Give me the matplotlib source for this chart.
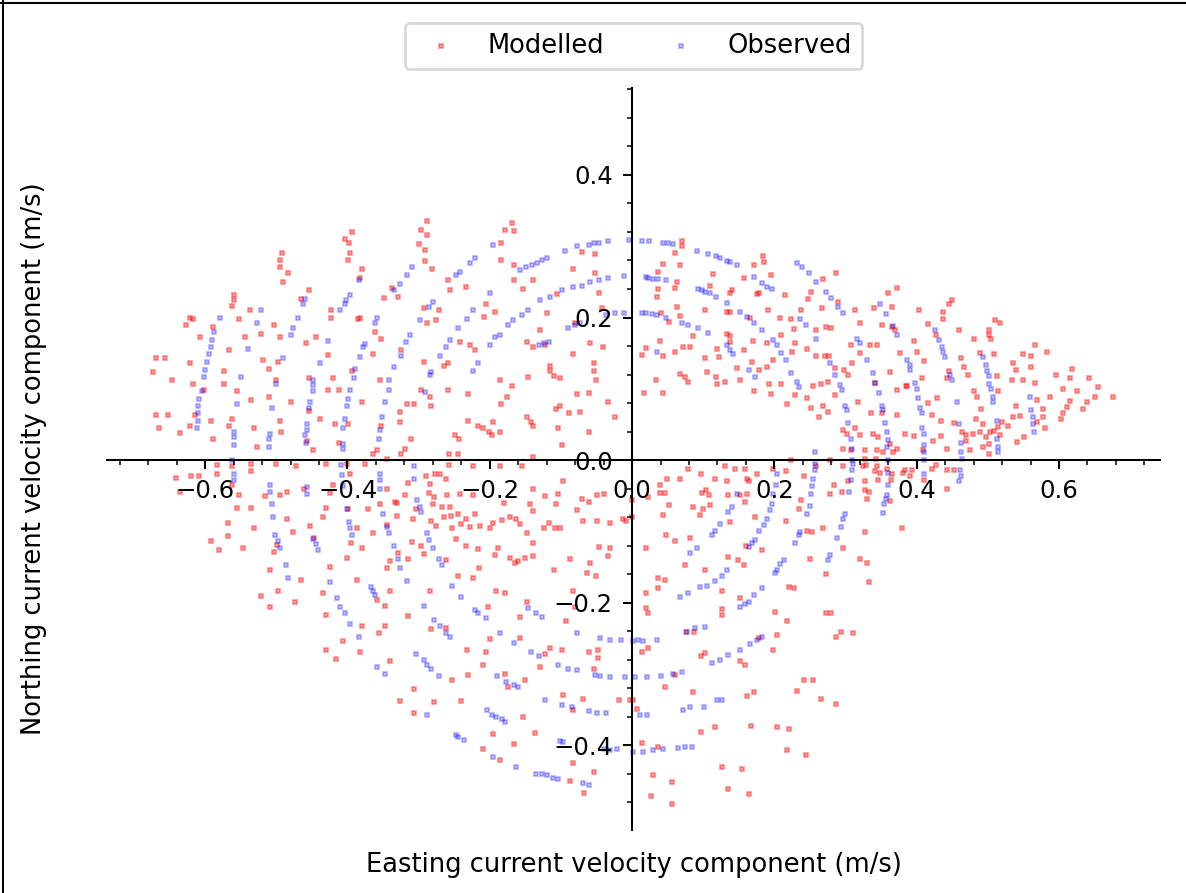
import matplotlib

matplotlib.use("Agg")  # headless
import matplotlib.pyplot as plt
from matplotlib.lines import Line2D
from matplotlib.ticker import MultipleLocator

# Current velocity components (east, north) in m/s.
MODELLED_NW = [
    (-0.394, 0.320), (-0.404, 0.310), (-0.398, 0.304), (-0.396, 0.291), (-0.399, 0.281),
    (-0.379, 0.268), (-0.382, 0.255), (-0.492, 0.291), (-0.495, 0.281), (-0.495, 0.271),
    (-0.483, 0.263), (-0.490, 0.250), (-0.454, 0.239), (-0.466, 0.226), (-0.560, 0.232),
    (-0.560, 0.224), (-0.562, 0.216), (-0.537, 0.211), (-0.423, 0.211), (-0.423, 0.200),
    (-0.385, 0.198), (-0.622, 0.200), (-0.617, 0.198), (-0.627, 0.190), (-0.552, 0.198),
    (-0.503, 0.190), (-0.589, 0.187), (-0.607, 0.172), (-0.544, 0.172), (-0.521, 0.177),
    (-0.495, 0.172), (-0.444, 0.172), (-0.459, 0.164), (-0.428, 0.148), (-0.566, 0.154),
    (-0.669, 0.143), (-0.657, 0.143), (-0.622, 0.136), (-0.519, 0.141), (-0.498, 0.138),
    (-0.673, 0.123), (-0.511, 0.128), (-0.573, 0.125), (-0.393, 0.125), (-0.454, 0.115),
    (-0.420, 0.115), (-0.646, 0.112), (-0.617, 0.107), (-0.573, 0.107), (-0.501, 0.112),
    (-0.427, 0.099), (-0.412, 0.099), (-0.555, 0.097), (-0.602, 0.099), (-0.535, 0.084),
    (-0.511, 0.089), (-0.480, 0.081), (-0.379, 0.081), (-0.454, 0.069), (-0.669, 0.063),
    (-0.652, 0.063), (-0.615, 0.063), (-0.438, 0.058), (-0.495, 0.055), (-0.563, 0.058),
    (-0.592, 0.055), (-0.417, 0.051), (-0.399, 0.051), (-0.665, 0.045), (-0.622, 0.048),
    (-0.566, 0.048), (-0.532, 0.045), (-0.493, 0.040), (-0.636, 0.038), (-0.589, 0.029),
    (-0.412, 0.024), (-0.457, 0.027), (-0.527, 0.019), (-0.449, 0.014),
    (-0.288, 0.336), (-0.296, 0.323), (-0.288, 0.316), (-0.299, 0.303), (-0.291, 0.295),
    (-0.291, 0.279), (-0.281, 0.268), (-0.259, 0.253), (-0.256, 0.238), (-0.233, 0.243),
    (-0.293, 0.213), (-0.272, 0.211), (-0.288, 0.193), (-0.275, 0.196), (-0.348, 0.227),
    (-0.329, 0.229), (-0.337, 0.242), (-0.382, 0.199), (-0.361, 0.180), (-0.353, 0.170),
    (-0.364, 0.149), (-0.325, 0.154), (-0.293, 0.138), (-0.259, 0.136), (-0.265, 0.132),
    (-0.242, 0.166), (-0.228, 0.161), (-0.221, 0.154), (-0.206, 0.219), (-0.208, 0.201),
    (-0.192, 0.208), (-0.184, 0.304), (-0.179, 0.323), (-0.169, 0.333), (-0.166, 0.321),
    (-0.184, 0.281), (-0.166, 0.274), (-0.166, 0.253), (-0.153, 0.240), (-0.139, 0.253),
    (-0.129, 0.183), (-0.119, 0.206), (-0.148, 0.166), (-0.139, 0.159), (-0.123, 0.162),
    (-0.106, 0.233), (-0.083, 0.268), (-0.071, 0.292), (-0.052, 0.289), (-0.052, 0.263),
    (-0.046, 0.234), (-0.042, 0.213), (-0.059, 0.164), (-0.041, 0.159), (-0.080, 0.192),
    (-0.083, 0.149), (-0.053, 0.136), (-0.054, 0.125), (-0.051, 0.112), (-0.116, 0.132),
    (-0.115, 0.125), (-0.110, 0.118), (-0.102, 0.115), (-0.186, 0.112), (-0.169, 0.104),
    (-0.146, 0.117), (-0.259, 0.099), (-0.231, 0.092), (-0.296, 0.099), (-0.284, 0.089),
    (-0.176, 0.089), (-0.184, 0.079), (-0.317, 0.079), (-0.306, 0.079), (-0.326, 0.068),
    (-0.326, 0.053), (-0.283, 0.076), (-0.231, 0.055), (-0.216, 0.048), (-0.210, 0.045),
    (-0.201, 0.040), (-0.195, 0.053), (-0.197, 0.035), (-0.186, 0.040), (-0.147, 0.061),
    (-0.142, 0.053), (-0.139, 0.048), (-0.104, 0.045), (-0.102, 0.076), (-0.107, 0.071),
    (-0.088, 0.066), (-0.073, 0.068), (-0.078, 0.092), (-0.060, 0.094), (-0.034, 0.081),
    (-0.024, 0.061), (-0.060, 0.040), (-0.099, 0.021), (-0.311, 0.029), (-0.319, 0.016),
    (-0.325, 0.008), (-0.364, 0.008), (-0.359, 0.014), (-0.354, 0.112), (-0.353, 0.048),
    (-0.249, 0.035), (-0.243, 0.029), (-0.244, 0.008), (-0.258, 0.008), (-0.139, 0.004),
    (-0.344, 0.002),
]

MODELLED_NE = [
    (0.070, 0.308), (0.070, 0.301), (0.060, 0.291), (0.044, 0.275), (0.067, 0.273),
    (0.036, 0.264), (0.063, 0.250), (0.060, 0.242), (0.036, 0.240), (0.035, 0.229),
    (0.114, 0.261), (0.109, 0.244), (0.138, 0.234), (0.140, 0.239), (0.172, 0.274),
    (0.184, 0.287), (0.186, 0.278), (0.195, 0.260), (0.157, 0.255), (0.175, 0.233),
    (0.179, 0.234), (0.215, 0.232), (0.252, 0.236), (0.247, 0.226), (0.269, 0.254),
    (0.286, 0.262), (0.313, 0.211), (0.340, 0.214), (0.359, 0.234), (0.372, 0.241),
    (0.365, 0.215), (0.377, 0.150), (0.386, 0.104), (0.063, 0.215), (0.067, 0.202),
    (0.041, 0.206), (0.052, 0.194), (0.102, 0.211), (0.133, 0.208), (0.137, 0.208),
    (0.166, 0.200), (0.191, 0.210), (0.208, 0.200), (0.223, 0.198), (0.227, 0.184),
    (0.237, 0.211), (0.267, 0.213), (0.259, 0.183), (0.273, 0.187), (0.280, 0.185),
    (0.290, 0.222), (0.321, 0.192), (0.334, 0.162), (0.344, 0.162), (0.308, 0.162),
    (0.320, 0.150), (0.351, 0.190), (0.365, 0.187), (0.370, 0.183), (0.039, 0.167),
    (0.019, 0.157), (0.014, 0.148), (0.044, 0.146), (0.060, 0.151), (0.072, 0.159),
    (0.082, 0.158), (0.086, 0.174), (0.103, 0.143), (0.122, 0.144), (0.120, 0.156),
    (0.133, 0.177), (0.138, 0.174), (0.137, 0.166), (0.147, 0.129), (0.157, 0.154),
    (0.169, 0.138), (0.179, 0.126), (0.189, 0.131), (0.198, 0.141), (0.170, 0.167),
    (0.190, 0.164), (0.210, 0.176), (0.229, 0.164), (0.246, 0.156), (0.225, 0.151),
    (0.258, 0.146), (0.271, 0.146), (0.277, 0.146), (0.285, 0.129), (0.298, 0.126),
    (0.309, 0.136), (0.304, 0.119), (0.341, 0.108), (0.363, 0.123), (0.372, 0.098),
    (0.033, 0.112), (0.067, 0.121), (0.074, 0.116), (0.078, 0.110), (0.105, 0.123),
    (0.118, 0.117), (0.120, 0.107), (0.130, 0.110), (0.152, 0.112), (0.172, 0.097),
    (0.195, 0.092), (0.209, 0.107), (0.193, 0.107), (0.229, 0.091), (0.218, 0.079),
    (0.246, 0.087), (0.254, 0.104), (0.265, 0.107), (0.276, 0.110), (0.285, 0.091),
    (0.252, 0.073), (0.268, 0.076), (0.276, 0.068), (0.263, 0.060), (0.318, 0.081),
    (0.314, 0.045), (0.336, 0.066), (0.351, 0.066), (0.372, 0.063), (0.321, 0.035),
    (0.338, 0.037), (0.346, 0.032), (0.363, 0.023), (0.372, 0.016), (0.384, 0.037),
    (0.297, 0.042), (0.302, 0.037), (0.297, 0.016), (0.307, 0.014), (0.327, 0.014),
    (0.344, 0.014), (0.353, 0.012), (0.367, 0.012), (0.343, 0.001), (0.328, 0.001),
    (0.017, 0.094), (0.044, 0.094),
    (0.445, 0.219), (0.449, 0.224), (0.403, 0.211), (0.437, 0.208), (0.437, 0.198),
    (0.416, 0.191), (0.427, 0.175), (0.460, 0.183), (0.396, 0.167), (0.400, 0.151),
    (0.410, 0.139), (0.385, 0.104), (0.408, 0.115), (0.445, 0.125), (0.442, 0.115),
    (0.463, 0.143), (0.467, 0.130), (0.472, 0.120), (0.481, 0.170), (0.489, 0.150),
    (0.502, 0.183), (0.502, 0.175), (0.504, 0.170), (0.510, 0.196), (0.517, 0.193),
    (0.509, 0.149), (0.513, 0.118), (0.515, 0.097), (0.485, 0.089), (0.480, 0.097),
    (0.491, 0.072), (0.483, 0.058), (0.493, 0.050), (0.503, 0.040), (0.497, 0.033),
    (0.501, 0.022), (0.515, 0.047), (0.520, 0.054), (0.528, 0.048), (0.536, 0.061),
    (0.545, 0.062), (0.540, 0.076), (0.534, 0.112), (0.539, 0.127), (0.536, 0.136),
    (0.549, 0.112), (0.550, 0.149), (0.561, 0.146), (0.561, 0.130), (0.566, 0.162),
    (0.583, 0.151), (0.566, 0.108), (0.569, 0.084), (0.587, 0.089), (0.596, 0.120),
    (0.605, 0.100), (0.616, 0.115), (0.618, 0.128), (0.625, 0.097), (0.642, 0.115),
    (0.655, 0.102), (0.650, 0.089), (0.676, 0.089), (0.640, 0.081), (0.634, 0.071),
    (0.616, 0.083), (0.611, 0.074), (0.606, 0.066), (0.603, 0.058), (0.578, 0.071),
    (0.577, 0.061), (0.581, 0.045), (0.569, 0.054), (0.551, 0.033), (0.541, 0.025),
    (0.517, 0.035), (0.509, 0.041), (0.489, 0.040), (0.479, 0.037), (0.470, 0.035),
    (0.464, 0.040), (0.452, 0.052), (0.434, 0.055), (0.421, 0.063), (0.416, 0.080),
    (0.429, 0.087), (0.434, 0.034), (0.396, 0.034), (0.423, 0.027), (0.442, 0.016),
    (0.470, 0.027), (0.475, 0.014), (0.502, 0.009), (0.493, 0.019), (0.409, 0.014),
]

MODELLED_SW = [
    (-0.584, -0.007), (-0.563, -0.009), (-0.535, -0.005), (-0.501, -0.005), (-0.472, -0.008),
    (-0.430, -0.005), (-0.401, -0.005), (-0.375, -0.005), (-0.535, -0.016), (-0.397, -0.020),
    (-0.258, -0.007), (-0.223, -0.009), (-0.185, -0.009), (-0.155, -0.009),
    (-0.641, -0.025), (-0.620, -0.022), (-0.608, -0.022), (-0.584, -0.020), (-0.563, -0.035),
    (-0.636, -0.045), (-0.553, -0.049), (-0.516, -0.051), (-0.495, -0.049), (-0.485, -0.045),
    (-0.461, -0.041), (-0.420, -0.035), (-0.425, -0.046), (-0.354, -0.061), (-0.345, -0.040),
    (-0.555, -0.067), (-0.535, -0.067), (-0.430, -0.067), (-0.434, -0.080), (-0.371, -0.069),
    (-0.330, -0.060), (-0.485, -0.083), (-0.568, -0.088), (-0.532, -0.095), (-0.477, -0.101),
    (-0.452, -0.093), (-0.399, -0.069), (-0.387, -0.096), (-0.364, -0.103), (-0.344, -0.091),
    (-0.592, -0.114), (-0.581, -0.126), (-0.568, -0.106), (-0.547, -0.124), (-0.503, -0.129),
    (-0.499, -0.119), (-0.447, -0.109), (-0.395, -0.116), (-0.379, -0.124), (-0.401, -0.137),
    (-0.340, -0.142), (-0.329, -0.131), (-0.345, -0.152), (-0.509, -0.154), (-0.465, -0.168),
    (-0.424, -0.150), (-0.387, -0.168), (-0.340, -0.183), (-0.498, -0.183), (-0.521, -0.191),
    (-0.509, -0.206), (-0.474, -0.199), (-0.435, -0.186), (-0.430, -0.217), (-0.359, -0.197),
    (-0.347, -0.205), (-0.379, -0.233), (-0.347, -0.233), (-0.355, -0.243), (-0.407, -0.254),
    (-0.430, -0.267), (-0.416, -0.279), (-0.382, -0.269), (-0.340, -0.282), (-0.326, -0.338),
    (-0.277, -0.020), (-0.270, -0.020), (-0.289, -0.023), (-0.315, -0.032), (-0.284, -0.033),
    (-0.262, -0.026), (-0.319, -0.049), (-0.333, -0.059), (-0.285, -0.046), (-0.279, -0.052),
    (-0.260, -0.049), (-0.242, -0.048), (-0.223, -0.049), (-0.280, -0.061), (-0.267, -0.066),
    (-0.256, -0.066), (-0.303, -0.069), (-0.330, -0.079), (-0.308, -0.083), (-0.282, -0.086),
    (-0.265, -0.080), (-0.254, -0.078), (-0.244, -0.076), (-0.233, -0.083), (-0.221, -0.075),
    (-0.214, -0.093), (-0.200, -0.096), (-0.195, -0.088), (-0.183, -0.084), (-0.171, -0.080),
    (-0.163, -0.082), (-0.157, -0.090), (-0.143, -0.061), (-0.139, -0.071), (-0.122, -0.051),
    (-0.107, -0.062), (-0.104, -0.047), (-0.097, -0.030), (-0.139, -0.041), (-0.180, -0.060),
    (-0.108, -0.095), (-0.102, -0.095), (-0.117, -0.088), (-0.124, -0.096), (-0.147, -0.103),
    (-0.275, -0.093), (-0.253, -0.096), (-0.240, -0.089), (-0.228, -0.094), (-0.247, -0.111),
    (-0.233, -0.121), (-0.216, -0.125), (-0.189, -0.124), (-0.192, -0.133), (-0.172, -0.137),
    (-0.161, -0.142), (-0.150, -0.137), (-0.139, -0.135), (-0.139, -0.116), (-0.310, -0.115),
    (-0.296, -0.121), (-0.293, -0.132), (-0.315, -0.139), (-0.262, -0.140), (-0.244, -0.162),
    (-0.223, -0.165), (-0.215, -0.151), (-0.191, -0.183), (-0.179, -0.186), (-0.202, -0.206),
    (-0.147, -0.199), (-0.158, -0.220), (-0.165, -0.145), (-0.110, -0.154), (-0.087, -0.139),
    (-0.059, -0.144), (-0.064, -0.158), (-0.051, -0.163), (-0.083, -0.183), (-0.080, -0.206),
    (-0.093, -0.226), (-0.071, -0.054), (-0.078, -0.070), (-0.069, -0.085), (-0.060, -0.059),
    (-0.050, -0.085), (-0.031, -0.088), (-0.013, -0.083), (-0.008, -0.085), (-0.047, -0.122),
    (-0.031, -0.123), (-0.034, -0.134), (-0.049, -0.049), (-0.039, -0.047), (-0.284, -0.184),
    (-0.315, -0.219), (-0.283, -0.237), (-0.262, -0.236), (-0.232, -0.267), (-0.206, -0.269),
    (-0.199, -0.251), (-0.231, -0.302), (-0.253, -0.308), (-0.306, -0.321), (-0.307, -0.355),
    (-0.278, -0.339), (-0.241, -0.338), (-0.209, -0.288), (-0.174, -0.318), (-0.179, -0.300),
    (-0.150, -0.308), (-0.158, -0.250), (-0.129, -0.290), (-0.123, -0.272), (-0.116, -0.264),
    (-0.098, -0.267), (-0.097, -0.329), (-0.083, -0.351), (-0.069, -0.335), (-0.061, -0.269),
    (-0.048, -0.266), (-0.048, -0.277), (-0.053, -0.293), (-0.018, -0.336), (-0.210, -0.406),
    (-0.186, -0.421), (-0.166, -0.399), (-0.195, -0.384), (-0.137, -0.383), (-0.153, -0.361),
    (-0.083, -0.425), (-0.053, -0.438), (-0.087, -0.450), (-0.067, -0.467), (-0.003, -0.337),
]

MODELLED_SE = [
    (0.079, -0.012), (0.067, -0.027), (0.049, -0.026), (0.039, -0.035), (0.039, -0.046),
    (0.046, -0.046), (0.023, -0.052), (0.000, -0.056), (0.097, -0.020), (0.116, -0.026),
    (0.133, -0.029), (0.130, -0.009), (0.145, -0.013), (0.159, -0.013), (0.161, -0.026),
    (0.164, -0.030), (0.176, -0.019), (0.159, -0.059), (0.135, -0.049), (0.109, -0.063),
    (0.100, -0.068), (0.096, -0.077), (0.086, -0.066), (0.052, -0.063), (0.044, -0.077),
    (0.108, -0.049), (0.098, -0.046), (0.104, -0.042), (0.138, -0.087), (0.152, -0.049),
    (0.161, -0.047), (0.173, -0.080), (0.182, -0.126), (0.157, -0.147), (0.149, -0.140),
    (0.160, -0.121), (0.135, -0.136), (0.102, -0.154), (0.074, -0.147), (0.081, -0.109),
    (0.060, -0.113), (0.047, -0.105), (0.020, -0.124), (0.036, -0.166), (0.036, -0.180),
    (0.046, -0.168), (0.019, -0.186), (0.019, -0.208), (0.022, -0.214), (0.127, -0.184),
    (0.127, -0.209), (0.127, -0.218), (0.152, -0.193), (0.217, -0.085), (0.221, -0.178),
    (0.227, -0.180), (0.250, -0.139), (0.273, -0.160), (0.269, -0.096), (0.246, -0.099),
    (0.253, -0.101), (0.203, -0.246), (0.198, -0.267), (0.235, -0.068), (0.237, -0.056),
    (0.217, -0.016), (0.241, -0.023), (0.259, -0.009), (0.297, -0.009), (0.278, -0.047),
    (0.284, -0.035), (0.295, -0.045), (0.304, -0.030), (0.327, -0.030), (0.333, -0.045),
    (0.330, -0.054), (0.325, -0.009), (0.341, -0.016), (0.296, -0.124), (0.320, -0.139),
    (0.273, -0.214), (0.280, -0.214), (0.294, -0.241), (0.310, -0.243), (0.286, -0.248),
    (0.218, -0.226), (0.201, -0.213), (0.179, -0.250), (0.151, -0.282), (0.159, -0.288),
    (0.102, -0.271), (0.097, -0.275), (0.086, -0.325), (0.076, -0.241), (0.087, -0.241),
    (0.014, -0.269), (0.022, -0.264), (0.007, -0.349), (0.002, -0.337), (0.014, -0.397),
    (0.036, -0.402), (0.029, -0.442), (0.056, -0.451), (0.027, -0.471), (0.056, -0.482),
    (0.046, -0.318), (0.060, -0.301), (0.161, -0.331), (0.172, -0.326), (0.116, -0.375),
    (0.097, -0.382), (0.167, -0.373), (0.203, -0.375), (0.221, -0.378), (0.242, -0.308),
    (0.254, -0.308), (0.232, -0.324), (0.265, -0.335), (0.286, -0.342), (0.218, -0.407),
    (0.245, -0.414), (0.126, -0.430), (0.154, -0.433), (0.135, -0.461), (0.164, -0.469),
    (0.000, -0.080), (0.198, -0.012), (0.224, 0.000), (0.278, 0.000), (0.344, -0.009),
    (0.358, -0.012), (0.329, -0.007), (0.348, -0.018), (0.346, -0.028), (0.328, -0.042),
    (0.365, -0.019), (0.364, -0.028), (0.362, -0.058), (0.381, -0.018), (0.384, -0.014),
    (0.394, -0.014), (0.391, -0.023), (0.411, -0.028), (0.421, -0.013), (0.427, -0.007),
    (0.443, -0.014), (0.452, -0.014), (0.443, -0.040), (0.379, -0.095), (0.327, -0.101),
    (0.330, -0.145), (0.333, -0.171),
]

OBSERVED_NW = [
    (-0.579, 0.200), (-0.587, 0.179), (-0.591, 0.169), (-0.592, 0.159), (-0.595, 0.149),
    (-0.597, 0.138), (-0.600, 0.127), (-0.602, 0.117), (-0.605, 0.097), (-0.608, 0.086),
    (-0.610, 0.076), (-0.610, 0.066), (-0.610, 0.055), (-0.612, 0.045),
    (-0.522, 0.211), (-0.527, 0.193), (-0.540, 0.156), (-0.549, 0.117), (-0.555, 0.079),
    (-0.560, 0.040), (-0.560, 0.032), (-0.560, 0.021), (-0.562, 0.000),
    (-0.460, 0.226), (-0.462, 0.219), (-0.470, 0.200), (-0.477, 0.185), (-0.479, 0.176),
    (-0.490, 0.143), (-0.501, 0.107), (-0.506, 0.073), (-0.509, 0.037), (-0.511, 0.029),
    (-0.511, 0.019),
    (-0.384, 0.253), (-0.396, 0.232), (-0.402, 0.225), (-0.404, 0.219), (-0.410, 0.211),
    (-0.427, 0.167), (-0.438, 0.136), (-0.448, 0.112), (-0.449, 0.105), (-0.449, 0.097),
    (-0.453, 0.081), (-0.454, 0.073), (-0.457, 0.051), (-0.457, 0.042), (-0.460, 0.035),
    (-0.459, 0.024),
    (-0.310, 0.271), (-0.317, 0.260), (-0.326, 0.247), (-0.335, 0.239), (-0.359, 0.200),
    (-0.361, 0.193), (-0.375, 0.163), (-0.378, 0.159), (-0.382, 0.145), (-0.389, 0.128),
    (-0.391, 0.115), (-0.396, 0.099), (-0.399, 0.086), (-0.401, 0.076), (-0.404, 0.058),
    (-0.406, 0.045), (-0.407, 0.022), (-0.407, 0.016), (-0.409, -0.007),
    (-0.356, 0.030), (-0.354, 0.042), (-0.352, 0.061), (-0.347, 0.082), (-0.342, 0.098),
    (-0.341, 0.112), (-0.335, 0.131), (-0.325, 0.146), (-0.318, 0.165), (-0.312, 0.176),
    (-0.298, 0.196), (-0.286, 0.215), (-0.280, 0.222), (-0.248, 0.260), (-0.242, 0.264),
    (-0.228, 0.276), (-0.221, 0.283),
    (-0.284, 0.119), (-0.282, 0.124), (-0.270, 0.146), (-0.262, 0.159), (-0.256, 0.169),
    (-0.244, 0.185), (-0.232, 0.198), (-0.223, 0.211), (-0.199, 0.234), (-0.158, 0.266),
    (-0.149, 0.271), (-0.141, 0.274), (-0.134, 0.277), (-0.127, 0.280), (-0.120, 0.283),
    (-0.195, 0.302), (-0.291, 0.096), (-0.223, 0.125), (-0.216, 0.136),
    (-0.199, 0.162), (-0.192, 0.173), (-0.185, 0.176), (-0.174, 0.190), (-0.167, 0.197),
    (-0.155, 0.204), (-0.146, 0.211), (-0.129, 0.225), (-0.115, 0.229), (-0.099, 0.238),
    (-0.083, 0.243), (-0.071, 0.244), (-0.059, 0.250), (-0.046, 0.253), (-0.034, 0.255),
    (-0.012, 0.258),
    (-0.131, 0.162), (-0.124, 0.164), (-0.117, 0.166), (-0.090, 0.185), (-0.080, 0.190),
    (-0.073, 0.192), (-0.036, 0.204), (-0.024, 0.206), (-0.012, 0.206),
    (-0.094, 0.294), (-0.078, 0.300), (-0.061, 0.302), (-0.054, 0.304), (-0.046, 0.305),
    (-0.034, 0.307), (-0.005, 0.309),
]

OBSERVED_NE = [
    (0.014, 0.307), (0.024, 0.307), (0.044, 0.304), (0.051, 0.304), (0.058, 0.303),
    (0.091, 0.294), (0.107, 0.289), (0.118, 0.287), (0.123, 0.284), (0.133, 0.279),
    (0.138, 0.278), (0.147, 0.274),
    (0.014, 0.206), (0.019, 0.206), (0.028, 0.205), (0.035, 0.204), (0.048, 0.200),
    (0.232, 0.276), (0.239, 0.271), (0.248, 0.263), (0.259, 0.250), (0.273, 0.236),
    (0.280, 0.227), (0.290, 0.215), (0.297, 0.206), (0.316, 0.170), (0.321, 0.164),
    (0.330, 0.140), (0.338, 0.122), (0.341, 0.108), (0.347, 0.094), (0.351, 0.076),
    (0.353, 0.070), (0.355, 0.052), (0.358, 0.040), (0.359, 0.028), (0.358, 0.019),
    (0.359, 0.000),
    (0.019, 0.257), (0.023, 0.255), (0.030, 0.254), (0.036, 0.254), (0.047, 0.252),
    (0.093, 0.240), (0.098, 0.238), (0.103, 0.236), (0.109, 0.234), (0.118, 0.229),
    (0.133, 0.221), (0.171, 0.257), (0.182, 0.248), (0.189, 0.243), (0.196, 0.240),
    (0.236, 0.198), (0.245, 0.190), (0.259, 0.170), (0.278, 0.136), (0.285, 0.120),
    (0.292, 0.105), (0.295, 0.098), (0.299, 0.076), (0.302, 0.070), (0.304, 0.052),
    (0.307, 0.029), (0.309, 0.016), (0.309, 0.000),
    (0.348, 0.219), (0.357, 0.205), (0.367, 0.188), (0.372, 0.176), (0.387, 0.140),
    (0.391, 0.133), (0.391, 0.127), (0.397, 0.108), (0.400, 0.100), (0.402, 0.087),
    (0.405, 0.073), (0.407, 0.066), (0.408, 0.045), (0.410, 0.037), (0.411, 0.021),
    (0.410, 0.012), (0.410, 0.000),
    (0.426, 0.183), (0.432, 0.168), (0.435, 0.159), (0.437, 0.152), (0.440, 0.144),
    (0.447, 0.119), (0.450, 0.112), (0.456, 0.081), (0.460, 0.050), (0.463, 0.024),
    (0.463, 0.012), (0.464, 0.001),
    (0.493, 0.144), (0.497, 0.133), (0.499, 0.125), (0.502, 0.118), (0.502, 0.107),
    (0.504, 0.100), (0.507, 0.089), (0.507, 0.081), (0.513, 0.055), (0.513, 0.029),
    (0.515, 0.019), (0.515, 0.012),
    (0.559, 0.089), (0.561, 0.070), (0.564, 0.061), (0.564, 0.051), (0.565, 0.039),
    (0.070, 0.192), (0.079, 0.190), (0.093, 0.185), (0.107, 0.178), (0.035, 0.151),
    (0.133, 0.162), (0.138, 0.154), (0.142, 0.149), (0.164, 0.126), (0.173, 0.117),
    (0.198, 0.169), (0.203, 0.162), (0.210, 0.150), (0.216, 0.141), (0.161, 0.201),
    (0.171, 0.192), (0.182, 0.183), (0.152, 0.208), (0.224, 0.122), (0.232, 0.110),
    (0.235, 0.103), (0.257, 0.012),
]

OBSERVED_SW = [
    (-0.560, -0.019), (-0.560, -0.028),
    (-0.509, -0.035), (-0.509, -0.045), (-0.506, -0.061), (-0.504, -0.080), (-0.502, -0.105),
    (-0.498, -0.113), (-0.495, -0.124), (-0.487, -0.147), (-0.483, -0.165),
    (-0.457, -0.038), (-0.457, -0.047), (-0.448, -0.111), (-0.444, -0.118), (-0.441, -0.126),
    (-0.425, -0.171), (-0.415, -0.193), (-0.410, -0.206), (-0.404, -0.215), (-0.397, -0.230),
    (-0.384, -0.248),
    (-0.408, -0.021), (-0.406, -0.037), (-0.401, -0.069), (-0.398, -0.087), (-0.397, -0.096),
    (-0.393, -0.105),
    (-0.354, -0.019), (-0.354, -0.028), (-0.354, -0.040), (-0.350, -0.075), (-0.344, -0.094),
    (-0.342, -0.103), (-0.334, -0.121), (-0.329, -0.139), (-0.326, -0.151),
    (-0.307, -0.009), (-0.307, -0.026), (-0.302, -0.056), (-0.298, -0.066), (-0.296, -0.073),
    (-0.288, -0.103), (-0.285, -0.112), (-0.280, -0.124), (-0.272, -0.139), (-0.267, -0.147),
    (-0.367, -0.178), (-0.364, -0.183), (-0.361, -0.190), (-0.358, -0.290), (-0.347, -0.300),
    (-0.317, -0.169), (-0.253, -0.177), (-0.240, -0.192), (-0.293, -0.205),
    (-0.279, -0.225), (-0.270, -0.233), (-0.262, -0.243), (-0.256, -0.248),
    (-0.304, -0.272), (-0.293, -0.281), (-0.288, -0.287), (-0.283, -0.293), (-0.272, -0.303),
    (-0.288, -0.358), (-0.248, -0.386), (-0.244, -0.388), (-0.236, -0.393),
    (-0.195, -0.417), (-0.163, -0.430), (-0.135, -0.440), (-0.127, -0.440), (-0.120, -0.442),
    (-0.111, -0.446), (-0.104, -0.448), (-0.069, -0.453), (-0.061, -0.456),
    (-0.204, -0.351), (-0.197, -0.358), (-0.191, -0.361), (-0.183, -0.363), (-0.179, -0.368),
    (-0.221, -0.211), (-0.216, -0.215), (-0.206, -0.222),
    (-0.190, -0.303), (-0.177, -0.311), (-0.166, -0.316), (-0.160, -0.318),
    (-0.185, -0.243), (-0.166, -0.257), (-0.146, -0.208), (-0.135, -0.214), (-0.127, -0.220),
    (-0.142, -0.269), (-0.131, -0.275), (-0.104, -0.287), (-0.090, -0.293), (-0.078, -0.295),
    (-0.122, -0.336), (-0.099, -0.344), (-0.085, -0.346), (-0.078, -0.243),
    (-0.061, -0.352), (-0.049, -0.355), (-0.036, -0.355),
    (-0.052, -0.302), (-0.045, -0.303), (-0.031, -0.305), (-0.010, -0.305),
    (-0.045, -0.250), (-0.031, -0.253), (-0.015, -0.253),
    (-0.102, -0.394), (-0.097, -0.396), (-0.040, -0.406), (-0.031, -0.407), (-0.021, -0.406),
]

OBSERVED_SE = [
    (0.359, -0.018), (0.359, -0.035), (0.358, -0.049), (0.357, -0.055), (0.354, -0.062),
    (0.352, -0.074),
    (0.310, -0.005), (0.309, -0.014), (0.307, -0.028), (0.305, -0.045), (0.299, -0.075),
    (0.297, -0.082), (0.293, -0.094), (0.288, -0.110), (0.278, -0.133), (0.276, -0.140),
    (0.410, -0.020), (0.461, -0.014), (0.462, -0.023), (0.460, -0.030),
    (0.257, -0.005), (0.257, -0.014), (0.254, -0.026), (0.253, -0.037), (0.252, -0.047),
    (0.250, -0.065), (0.246, -0.076), (0.236, -0.101), (0.234, -0.105), (0.229, -0.116),
    (0.203, -0.019), (0.202, -0.035), (0.198, -0.047), (0.196, -0.061), (0.194, -0.070),
    (0.189, -0.082), (0.185, -0.091), (0.179, -0.099), (0.173, -0.112), (0.169, -0.117),
    (0.164, -0.122),
    (0.213, -0.140), (0.208, -0.146), (0.203, -0.154), (0.201, -0.159), (0.182, -0.180),
    (0.171, -0.190), (0.164, -0.199), (0.159, -0.202), (0.152, -0.206),
    (0.147, -0.047), (0.140, -0.066), (0.135, -0.073), (0.124, -0.090), (0.116, -0.099),
    (0.112, -0.105), (0.091, -0.124), (0.082, -0.131),
    (0.133, -0.154), (0.126, -0.162), (0.116, -0.169), (0.105, -0.176), (0.096, -0.178),
    (0.079, -0.187), (0.067, -0.192),
    (0.103, -0.234), (0.089, -0.236), (0.077, -0.241), (0.035, -0.253), (0.016, -0.254),
    (0.002, -0.254), (0.009, -0.253),
    (0.182, -0.248), (0.175, -0.253), (0.166, -0.258), (0.152, -0.267), (0.135, -0.274),
    (0.123, -0.281), (0.112, -0.285),
    (0.070, -0.297), (0.058, -0.300), (0.041, -0.303), (0.021, -0.305), (0.004, -0.305),
    (0.126, -0.336), (0.119, -0.337), (0.101, -0.346), (0.082, -0.347), (0.072, -0.350),
    (0.021, -0.357), (0.011, -0.357),
    (0.084, -0.402), (0.074, -0.403), (0.065, -0.404), (0.044, -0.406), (0.029, -0.407),
    (0.016, -0.410), (0.002, -0.410),
]


def split(*groups):
    pts = [p for g in groups for p in g]
    return [p[0] for p in pts], [p[1] for p in pts]


mod_u, mod_v = split(MODELLED_NW, MODELLED_NE, MODELLED_SW, MODELLED_SE)
obs_u, obs_v = split(OBSERVED_NW, OBSERVED_NE, OBSERVED_SW, OBSERVED_SE)

fig = plt.figure(figsize=(1186 / 185, 893 / 185), dpi=185)
ax = fig.add_axes([107 / 1186, 63 / 893, 1053 / 1186, 742 / 893])

ax.scatter(mod_u, mod_v, s=3, marker="s", c="red", alpha=0.35, linewidths=0.8,
           label="Modelled")
ax.scatter(obs_u, obs_v, s=3, marker="s", c="blue", alpha=0.25, linewidths=0.8,
           label="Observed")

ax.set_xlim(-0.738, 0.742)
ax.set_ylim(-0.519, 0.522)

# axes through the origin, no box
ax.spines["left"].set_position(("data", 0))
ax.spines["bottom"].set_position(("data", 0))
ax.spines["top"].set_visible(False)
ax.spines["right"].set_visible(False)

ax.xaxis.set_major_locator(MultipleLocator(0.2))
ax.xaxis.set_minor_locator(MultipleLocator(0.04))
ax.yaxis.set_major_locator(MultipleLocator(0.2))
ax.yaxis.set_minor_locator(MultipleLocator(0.04))
ax.tick_params(which="major", length=3.5, pad=4, labelsize=9.5)
ax.tick_params(which="minor", length=2)

ax.set_xlabel("Easting current velocity component (m/s)")
ax.set_ylabel("Northing current velocity component (m/s)")
ax.xaxis.set_label_coords(0.5, -0.03)
ax.yaxis.set_label_coords(-0.057, 0.5)

ax.legend(loc="upper center", bbox_to_anchor=(0.5, 1.105), ncol=2)

# frame lines along the top and left edge of the picture
fig.add_artist(Line2D([0, 1], [1 - 2.5 / 893] * 2, transform=fig.transFigure,
                      color="black", lw=0.8))
fig.add_artist(Line2D([2.5 / 1186] * 2, [0, 1], transform=fig.transFigure,
                      color="black", lw=0.8))

fig.savefig("out.png", dpi=185)
